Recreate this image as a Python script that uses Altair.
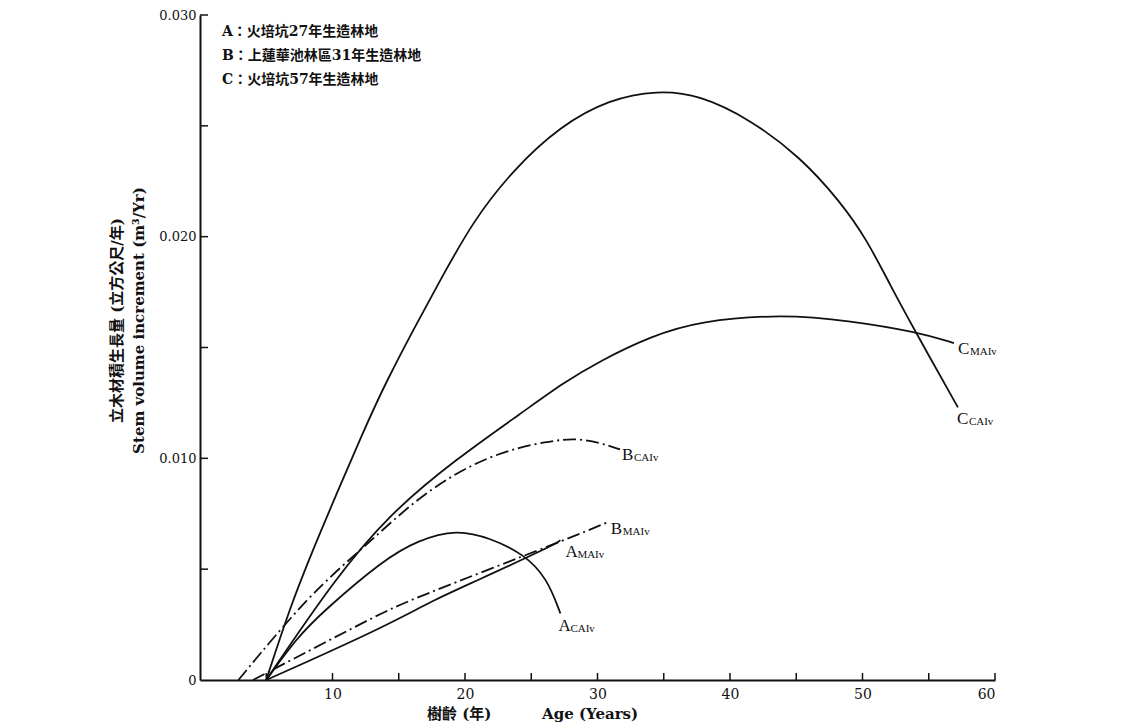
import altair as alt
import pandas as pd

# ---- data ----
c_cai_age = [5.0, 6.8, 8.8, 12.6, 14.1, 16.1, 18.1, 20.6, 23.6, 27.2, 30.9, 34.5, 37.7, 41.5, 45.3, 48.3, 50.3, 52.1, 54.1, 57.2]
c_cai_val = [0.0, 0.0033, 0.0063, 0.0116, 0.0135, 0.0158, 0.0180, 0.0207, 0.0230, 0.0250, 0.0262, 0.0266, 0.0264, 0.0253, 0.0236, 0.0216, 0.0199, 0.0178, 0.0156, 0.0123]

c_mai_age = [5.0, 10.1, 14.3, 19.4, 24.4, 27.4, 30.2, 34.0, 37.7, 44.0, 49.1, 54.1, 56.9]
c_mai_val = [0.0, 0.0045, 0.0075, 0.0100, 0.0121, 0.0134, 0.0144, 0.0155, 0.0162, 0.0165, 0.0162, 0.0157, 0.0152]

b_cai_age = [2.9, 8.3, 12.6, 16.9, 21.9, 26.4, 28.5, 30.2, 31.7]
b_cai_val = [0.0, 0.0039, 0.0061, 0.0085, 0.0102, 0.0108, 0.0109, 0.0107, 0.0104]

b_mai_age = [4.0, 13.6, 15.8, 27.9, 30.7]
b_mai_val = [0.0, 0.0030, 0.0036, 0.0064, 0.0071]

a_cai_age = [5.0, 7.3, 9.3, 13.8, 16.4, 19.4, 21.9, 24.4, 26.2, 27.2]
a_cai_val = [0.0, 0.0019, 0.0031, 0.0054, 0.0063, 0.0068, 0.0064, 0.0057, 0.0046, 0.0030]

a_mai_age = [5.0, 13.6, 17.6, 20.6, 26.4, 27.2]
a_mai_val = [0.0, 0.0023, 0.0036, 0.0044, 0.0060, 0.0063]

legend_lines = ["A：火培坑27年生造林地", "B：上蓮華池林區31年生造林地", "C：火培坑57年生造林地"]
x_label_values = [10, 20, 30, 40, 50, 60]
y_label_values = [0.0, 0.010, 0.020, 0.030]
x_tick_values = [5, 10, 15, 20, 25, 30, 35, 40, 45, 50, 55, 60]
y_tick_values = [0.005, 0.010, 0.015, 0.020, 0.025, 0.030]
x_title_cn = "樹齡 (年)"
x_title_en = "Age (Years)"

series = {
    "C_CAIv": (c_cai_age, c_cai_val, "solid"),
    "C_MAIv": (c_mai_age, c_mai_val, "solid"),
    "B_CAIv": (b_cai_age, b_cai_val, "dash"),
    "B_MAIv": (b_mai_age, b_mai_val, "dash"),
    "A_CAIv": (a_cai_age, a_cai_val, "solid"),
    "A_MAIv": (a_mai_age, a_mai_val, "solid"),
}

rows = []
for name, (ages, vals, style) in series.items():
    for i, (a, v) in enumerate(zip(ages, vals)):
        rows.append({"series": name, "age": a, "val": v, "order": i, "style": style})
df = pd.DataFrame(rows)

W, H = 795, 665
LATIN = "DejaVu Serif"
MIXED = "DejaVu Serif, Noto Sans CJK TC"

xs = alt.Scale(domain=[0, 60], nice=False, zero=False)
ys = alt.Scale(domain=[0, 0.030], nice=False, zero=False)

x_enc = alt.X("age:Q", scale=xs, axis=alt.Axis(
    values=x_label_values, grid=False, tickSize=0, labelPadding=7,
    labelFont=LATIN, labelFontSize=14, labelColor="#111",
    domainColor="#111", domainWidth=2, title=None))
y_enc = alt.Y("val:Q", scale=ys, axis=alt.Axis(
    values=y_label_values, grid=False, tickSize=0, labelPadding=4,
    labelFont=LATIN, labelFontSize=13, labelColor="#111",
    labelExpr="datum.value == 0 ? '0' : format(datum.value, '.3f')",
    domainColor="#111", domainWidth=2,
    title=["立木材積生長量 (立方公尺/年)", "Stem volume increment (m³/Yr)"],
    titleFont=MIXED, titleFontSize=15, titleFontWeight="bold", titleColor="#111",
    titleX=-91, titleY=305, titleAlign="center", titleBaseline="top",
    titleLineHeight=22, titleAngle=270))

base = alt.Chart(df)

solid = base.transform_filter(alt.datum.style == "solid").mark_line(
    color="#111", strokeWidth=1.8, interpolate="basis").encode(
    x=x_enc, y=y_enc, detail="series:N", order="order:Q")

dash = base.transform_filter(alt.datum.style == "dash").mark_line(
    color="#111", strokeWidth=1.8, interpolate="basis", strokeDash=[13, 4, 2, 4]).encode(
    x=alt.X("age:Q", scale=xs), y=alt.Y("val:Q", scale=ys), detail="series:N", order="order:Q")

# inner ticks
xt = alt.Chart(pd.DataFrame({"v": x_tick_values})).mark_rule(color="#111", strokeWidth=1.5).encode(
    x=alt.X("v:Q", scale=xs), y=alt.value(H), y2=alt.value(H - 7))
yt = alt.Chart(pd.DataFrame({"v": y_tick_values})).mark_rule(color="#111", strokeWidth=1.5).encode(
    y=alt.Y("v:Q", scale=ys), x=alt.value(0), x2=alt.value(8))

# x-axis titles (Chinese and English parts)
xtitle_cn = alt.Chart(pd.DataFrame({"t": [x_title_cn]})).mark_text(
    align="left", baseline="middle", font=MIXED, fontSize=15, fontWeight="bold", color="#111"
).encode(x=alt.value(227), y=alt.value(H + 34), text="t:N")
xtitle_en = alt.Chart(pd.DataFrame({"t": [x_title_en]})).mark_text(
    align="left", baseline="middle", font=LATIN, fontSize=15, fontWeight="bold", color="#111"
).encode(x=alt.value(342), y=alt.value(H + 34), text="t:N")

# curve labels with subscripts, anchored at series ends
label_spec = [
    ("C_MAIv", "C", "MAIv", 4, 6),
    ("C_CAIv", "C", "CAIv", -1, 12),
    ("B_CAIv", "B", "CAIv", 2, 6),
    ("B_MAIv", "B", "MAIv", 4, 6),
    ("A_MAIv", "A", "MAIv", 5, 12),
    ("A_CAIv", "A", "CAIv", -2, 12),
]
labels = []
for name, letter, sub, dx, dy in label_spec:
    ages, vals, _ = series[name]
    d = pd.DataFrame({"age": [ages[-1]], "val": [vals[-1]], "letter": [letter], "sub": [sub]})
    c = alt.Chart(d)
    labels.append(c.mark_text(align="left", baseline="middle", dx=dx, dy=dy,
                              font="Liberation Serif", fontSize=17, color="#111").encode(
        x=alt.X("age:Q", scale=xs), y=alt.Y("val:Q", scale=ys), text="letter:N"))
    labels.append(c.mark_text(align="left", baseline="middle", dx=dx + 12, dy=dy + 3,
                              font="Liberation Serif", fontSize=11, color="#111").encode(
        x=alt.X("age:Q", scale=xs), y=alt.Y("val:Q", scale=ys), text="sub:N"))

legend = []
for txt, ypos in zip(legend_lines, [17, 41, 65]):
    legend.append(alt.Chart(pd.DataFrame({"t": [txt]})).mark_text(
        align="left", baseline="middle", font=MIXED, fontSize=14, fontWeight="bold",
        color="#111").encode(x=alt.value(22), y=alt.value(ypos), text="t:N"))

chart = alt.layer(solid, dash, xt, yt, xtitle_cn, xtitle_en, *labels, *legend).properties(
    width=W, height=H,
    autosize=alt.AutoSizeParams(type="none"),
    padding={"left": 192, "top": 7, "right": 10, "bottom": 45},
    background="white",
).configure_view(stroke=None)

chart.save("out.html", embed_options={"renderer": "svg", "actions": False})
